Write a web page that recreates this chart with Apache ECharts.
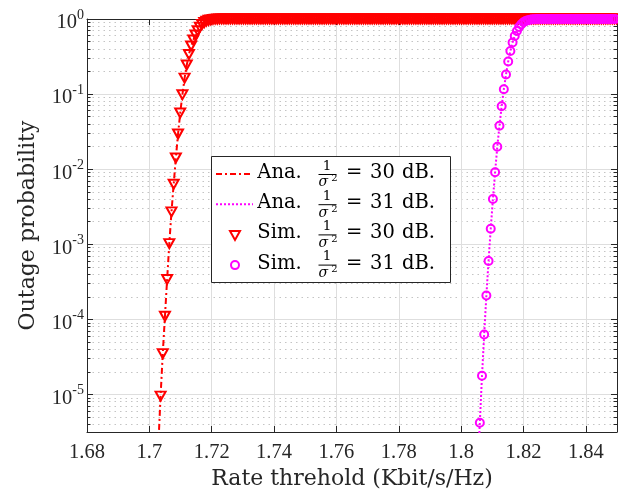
<!DOCTYPE html>
<html>
<head>
<meta charset="utf-8">
<script src="https://cdn.jsdelivr.net/npm/echarts@6/dist/echarts.min.js"></script>
<style>
  html, body { margin: 0; padding: 0; background: #ffffff; }
  #chart { width: 618px; height: 495px; }
</style>
</head>
<body>
<div id="chart"></div>
<script>
// Rate thresholds (Kbit/s/Hz) of the 1/sigma^2 = 30 dB run
const rate30 = [
  1.7036, 1.7043, 1.7050, 1.7057, 1.7064, 1.7071, 1.7078, 1.7085, 1.7092, 1.7099,
  1.7106, 1.7113, 1.7120, 1.7127, 1.7134, 1.7141, 1.7148, 1.7155, 1.7162, 1.7169,
  1.7176, 1.7183, 1.7190, 1.7197, 1.7204, 1.7211, 1.7218, 1.7225, 1.7232, 1.7239,
  1.7246, 1.7253, 1.7260, 1.7267, 1.7274, 1.7281, 1.7288, 1.7295, 1.7302, 1.7309,
  1.7316, 1.7323, 1.7330, 1.7337, 1.7344, 1.7351, 1.7358, 1.7365, 1.7372, 1.7379,
  1.7386, 1.7393, 1.7400, 1.7407, 1.7414, 1.7421, 1.7428, 1.7435, 1.7442, 1.7449,
  1.7456, 1.7463, 1.7470, 1.7477, 1.7484, 1.7491, 1.7498, 1.7505, 1.7512, 1.7519,
  1.7526, 1.7533, 1.7540, 1.7547, 1.7554, 1.7561, 1.7568, 1.7575, 1.7582, 1.7589,
  1.7596, 1.7603, 1.7610, 1.7617, 1.7624, 1.7631, 1.7638, 1.7645, 1.7652, 1.7659,
  1.7666, 1.7673, 1.7680, 1.7687, 1.7694, 1.7701, 1.7708, 1.7715, 1.7722, 1.7729,
  1.7736, 1.7743, 1.7750, 1.7757, 1.7764, 1.7771, 1.7778, 1.7785, 1.7792, 1.7799,
  1.7806, 1.7813, 1.7820, 1.7827, 1.7834, 1.7841, 1.7848, 1.7855, 1.7862, 1.7869,
  1.7876, 1.7883, 1.7890, 1.7897, 1.7904, 1.7911, 1.7918, 1.7925, 1.7932, 1.7939,
  1.7946, 1.7953, 1.7960, 1.7967, 1.7974, 1.7981, 1.7988, 1.7995, 1.8002, 1.8009,
  1.8016, 1.8023, 1.8030, 1.8037, 1.8044, 1.8051, 1.8058, 1.8065, 1.8072, 1.8079,
  1.8086, 1.8093, 1.8100, 1.8107, 1.8114, 1.8121, 1.8128, 1.8135, 1.8142, 1.8149,
  1.8156, 1.8163, 1.8170, 1.8177, 1.8184, 1.8191, 1.8198, 1.8205, 1.8212, 1.8219,
  1.8226, 1.8233, 1.8240, 1.8247, 1.8254, 1.8261, 1.8268, 1.8275, 1.8282, 1.8289,
  1.8296, 1.8303, 1.8310, 1.8317, 1.8324, 1.8331, 1.8338, 1.8345, 1.8352, 1.8359,
  1.8366, 1.8373, 1.8380, 1.8387, 1.8394, 1.8401, 1.8408, 1.8415, 1.8422, 1.8429,
  1.8436, 1.8443, 1.8450, 1.8457, 1.8464, 1.8471, 1.8478, 1.8485, 1.8492, 1.8499
];
// Outage probability, 30 dB
const outage30 = [
  9.5e-6, 3.5e-5, 1.1e-4, 3.4e-4, 1.02e-3, 2.7e-3, 6.3e-3, 1.41e-2, 2.94e-2, 5.6e-2,
  9.8e-2, 0.163, 0.244, 0.337, 0.437, 0.525, 0.612, 0.697, 0.778, 0.845,
  0.897, 0.935, 0.962, 0.975, 0.989, 0.995, 0.998, 1, 1, 1,
  1, 1, 1, 1, 1, 1, 1, 1, 1, 1,
  1, 1, 1, 1, 1, 1, 1, 1, 1, 1,
  1, 1, 1, 1, 1, 1, 1, 1, 1, 1,
  1, 1, 1, 1, 1, 1, 1, 1, 1, 1,
  1, 1, 1, 1, 1, 1, 1, 1, 1, 1,
  1, 1, 1, 1, 1, 1, 1, 1, 1, 1,
  1, 1, 1, 1, 1, 1, 1, 1, 1, 1,
  1, 1, 1, 1, 1, 1, 1, 1, 1, 1,
  1, 1, 1, 1, 1, 1, 1, 1, 1, 1,
  1, 1, 1, 1, 1, 1, 1, 1, 1, 1,
  1, 1, 1, 1, 1, 1, 1, 1, 1, 1,
  1, 1, 1, 1, 1, 1, 1, 1, 1, 1,
  1, 1, 1, 1, 1, 1, 1, 1, 1, 1,
  1, 1, 1, 1, 1, 1, 1, 1, 1, 1,
  1, 1, 1, 1, 1, 1, 1, 1, 1, 1,
  1, 1, 1, 1, 1, 1, 1, 1, 1, 1,
  1, 1, 1, 1, 1, 1, 1, 1, 1, 1,
  1, 1, 1, 1, 1, 1, 1, 1, 1, 1
];
// Rate thresholds of the 1/sigma^2 = 31 dB run
const rate31 = [
  1.8060, 1.8067, 1.8074, 1.8081, 1.8088, 1.8095, 1.8102, 1.8109, 1.8116, 1.8123,
  1.8130, 1.8137, 1.8144, 1.8151, 1.8158, 1.8165, 1.8172, 1.8179, 1.8186, 1.8193,
  1.8200, 1.8207, 1.8214, 1.8221, 1.8228, 1.8235, 1.8242, 1.8249, 1.8256, 1.8263,
  1.8270, 1.8277, 1.8284, 1.8291, 1.8298, 1.8305, 1.8312, 1.8319, 1.8326, 1.8333,
  1.8340, 1.8347, 1.8354, 1.8361, 1.8368, 1.8375, 1.8382, 1.8389, 1.8396, 1.8403,
  1.8410, 1.8417, 1.8424, 1.8431, 1.8438, 1.8445, 1.8452, 1.8459, 1.8466, 1.8473,
  1.8480, 1.8487, 1.8494
];
// Outage probability, 31 dB
const outage31 = [
  4.2e-6, 1.77e-5, 6.3e-5, 2.08e-4, 6.0e-4, 1.61e-3, 4.0e-3, 9.1e-3, 1.99e-2, 3.78e-2,
  6.9e-2, 0.116, 0.182, 0.272, 0.375, 0.486, 0.594, 0.692, 0.782, 0.849,
  0.904, 0.940, 0.964, 0.979, 0.989, 0.995, 0.998, 1, 1, 1,
  1, 1, 1, 1, 1, 1, 1, 1, 1, 1,
  1, 1, 1, 1, 1, 1, 1, 1, 1, 1,
  1, 1, 1, 1, 1, 1, 1, 1, 1, 1,
  1, 1, 1
];
// The analytic curves start one grid step lower, below the visible range
const anaLeadRate30 = [1.7029];
const anaLeadOutage30 = [2.2e-6];
const anaLeadRate31 = [1.8053];
const anaLeadOutage31 = [9.0e-7];

// Decade exponents labelled on the y axis
const decadeExponents = [0, -1, -2, -3, -4, -5];
const minorMantissas = [2, 3, 4, 5, 6, 7, 8, 9];

// Legend rows
const legendKinds = ['Ana.', 'Ana.', 'Sim.', 'Sim.'];
const legendSnr = ['30', '31', '30', '31'];
const legendIcons = ['dashdot', 'dotted', 'triangle', 'circle'];

const RED = '#ff0000';
const MAGENTA = '#ff00ff';
const AXIS = '#262626';
const Y_MIN = -5.5;   // log10 of the lower bound, 10^-5.5
const Y_MAX = 0;

const toLogPairs = (xs, ps) => xs.map((x, i) => [x, Math.log10(ps[i])]);

// minor tick positions (log10 space) for 2..9 x 10^e
const minorTicks = [];
for (let e = -6; e < 0; e++) {
  for (const m of minorMantissas) {
    const v = e + Math.log10(m);
    if (v >= Y_MIN && v < Y_MAX) minorTicks.push(v);
  }
}

const chart = echarts.init(document.getElementById('chart'), null, { renderer: 'canvas' });

const baseY = {
  type: 'value', min: Y_MIN, max: Y_MAX,
  axisLine: { show: false, onZero: false },
  axisLabel: { show: false },
  splitLine: { show: false }
};

const yAxes = [
  Object.assign({}, baseY, {
    position: 'left',
    axisLine: { show: true, onZero: false, lineStyle: { color: AXIS, width: 1 } },
    axisTick: { show: true, inside: true, length: 6, customValues: decadeExponents, lineStyle: { color: AXIS, width: 1 } },
    axisLabel: {
      show: true, margin: 3, customValues: decadeExponents,
      formatter: v => '{b|10}{s|' + v + '}',
      rich: {
        b: { fontFamily: 'Liberation Serif', fontSize: 20.5, color: AXIS, padding: [8, 0, 0, 0] },
        s: { fontFamily: 'Liberation Serif', fontSize: 14, color: AXIS, padding: [0, 0, 8, 0] }
      }
    },
    splitLine: { show: true, lineStyle: { color: '#dedede', width: 1 } },
    name: 'Outage probability', nameLocation: 'middle', nameGap: 48,
    nameTextStyle: { fontFamily: 'DejaVu Serif', fontSize: 22, color: AXIS }
  }),
  Object.assign({}, baseY, {
    position: 'left',
    axisTick: { show: true, inside: true, length: 3.5, customValues: minorTicks, lineStyle: { color: AXIS, width: 1 } },
    splitLine: { show: true, lineStyle: { color: '#c4c4c4', width: 1, type: [1.5, 4] } }
  }),
  Object.assign({}, baseY, {
    position: 'right',
    axisLine: { show: true, onZero: false, lineStyle: { color: AXIS, width: 1 } },
    axisTick: { show: true, inside: true, length: 6, customValues: decadeExponents, lineStyle: { color: AXIS, width: 1 } }
  }),
  Object.assign({}, baseY, {
    position: 'right',
    axisTick: { show: true, inside: true, length: 3.5, customValues: minorTicks, lineStyle: { color: AXIS, width: 1 } }
  })
];

const xAxes = [
  {
    type: 'value', position: 'bottom', min: 1.68, max: 1.85, interval: 0.02,
    axisLine: { show: true, onZero: false, lineStyle: { color: AXIS, width: 1 } },
    axisTick: { show: true, inside: true, length: 6, lineStyle: { color: AXIS, width: 1 } },
    axisLabel: { margin: 10, fontFamily: 'Liberation Serif', fontSize: 20.5, color: AXIS, showMaxLabel: false },
    splitLine: { show: true, lineStyle: { color: '#dedede', width: 1 } },
    name: 'Rate threhold (Kbit/s/Hz)', nameLocation: 'middle', nameGap: 35,
    nameTextStyle: { fontFamily: 'DejaVu Serif', fontSize: 22, color: AXIS }
  },
  {
    type: 'value', position: 'top', min: 1.68, max: 1.85, interval: 0.02,
    axisLine: { show: true, onZero: false, lineStyle: { color: AXIS, width: 1 } },
    axisTick: { show: true, inside: true, length: 6, lineStyle: { color: AXIS, width: 1 } },
    axisLabel: { show: false },
    splitLine: { show: false }
  }
];

// Legend drawn as a small group of graphic elements
const LEG = { x: 211.5, y: 156.5, w: 239, h: 126, row0: 173, rowStep: 30.2 };
const legendFont = { fontFamily: 'DejaVu Serif', fontSize: 19.5, fill: '#000' };
const legendElements = [{
  type: 'rect', z: 100,
  shape: { x: LEG.x, y: LEG.y, width: LEG.w, height: LEG.h },
  style: { fill: '#ffffff', stroke: AXIS, lineWidth: 1 }
}];
legendKinds.forEach((kind, i) => {
  const cy = LEG.row0 + LEG.rowStep * i;
  const icon = legendIcons[i];
  if (icon === 'dashdot') {
    legendElements.push({ type: 'line', z: 101, shape: { x1: 216, y1: cy + 1, x2: 253, y2: cy + 1 },
      style: { stroke: RED, lineWidth: 2, lineDash: [6, 3, 2, 3] } });
  } else if (icon === 'dotted') {
    legendElements.push({ type: 'line', z: 101, shape: { x1: 216, y1: cy + 1, x2: 253, y2: cy + 1 },
      style: { stroke: MAGENTA, lineWidth: 2, lineDash: [2, 2] } });
  } else if (icon === 'triangle') {
    const c = cy + 2;
    legendElements.push({ type: 'polygon', z: 101,
      shape: { points: [[230, c - 4.5], [240, c - 4.5], [235, c + 4.5]] },
      style: { fill: 'none', stroke: RED, lineWidth: 2, lineJoin: 'miter' } });
  } else {
    legendElements.push({ type: 'circle', z: 101, shape: { cx: 235, cy: cy + 1.5, r: 4 },
      style: { fill: 'none', stroke: MAGENTA, lineWidth: 2 } });
  }
  const txt = (x, y, text, extra) => ({
    type: 'text', z: 101, x: x, y: y,
    style: Object.assign({ text: text, align: 'left', verticalAlign: 'middle',
      textAlign: 'left', textVerticalAlign: 'middle' }, legendFont, extra || {})
  });
  legendElements.push(txt(257.3, cy, kind));
  legendElements.push(txt(327, cy - 6.8, '1', { fontSize: 13.5, align: 'center', textAlign: 'center' }));
  legendElements.push({ type: 'line', z: 101, shape: { x1: 318.5, y1: cy + 1.5, x2: 336.5, y2: cy + 1.5 },
    style: { stroke: '#000', lineWidth: 1 } });
  legendElements.push(txt(323.3, cy + 9.7, 'σ', { fontSize: 14, fontStyle: 'italic', align: 'center', textAlign: 'center' }));
  legendElements.push(txt(334.5, cy + 5.8, '2', { fontSize: 10, align: 'center', textAlign: 'center' }));
  legendElements.push(txt(354.2, cy, '=', { align: 'center', textAlign: 'center' }));
  legendElements.push(txt(370, cy, legendSnr[i]));
  legendElements.push(txt(402, cy, 'dB.'));
});

chart.setOption({
  animation: false,
  backgroundColor: '#ffffff',
  textStyle: { fontFamily: 'Liberation Serif' },
  grid: { left: 87, right: 1, top: 19, bottom: 63, containLabel: false, outerBoundsMode: 'none' },
  xAxis: xAxes,
  yAxis: yAxes,
  series: [
    {
      name: 'Ana. 30 dB', type: 'line', xAxisIndex: 0, yAxisIndex: 0,
      data: toLogPairs(anaLeadRate30.concat(rate30), anaLeadOutage30.concat(outage30)),
      symbol: 'none', clip: true, z: 3,
      lineStyle: { color: RED, width: 2, type: [6, 3, 2, 3] }
    },
    {
      name: 'Ana. 31 dB', type: 'line', xAxisIndex: 0, yAxisIndex: 0,
      data: toLogPairs(anaLeadRate31.concat(rate31), anaLeadOutage31.concat(outage31)),
      symbol: 'none', clip: true, z: 3,
      lineStyle: { color: MAGENTA, width: 2, type: [2, 2] }
    },
    {
      name: 'Sim. 30 dB', type: 'scatter', xAxisIndex: 0, yAxisIndex: 0,
      data: toLogPairs(rate30, outage30),
      symbol: 'triangle', symbolRotate: 180, symbolSize: [10, 9], z: 4,
      itemStyle: { color: 'rgba(0,0,0,0)', borderColor: RED, borderWidth: 2, opacity: 1 }
    },
    {
      name: 'Sim. 31 dB', type: 'scatter', xAxisIndex: 0, yAxisIndex: 0,
      data: toLogPairs(rate31, outage31),
      symbol: 'circle', symbolSize: 8, z: 5,
      itemStyle: { color: 'rgba(0,0,0,0)', borderColor: MAGENTA, borderWidth: 2, opacity: 1 }
    }
  ],
  graphic: { elements: legendElements }
});
</script>
</body>
</html>
